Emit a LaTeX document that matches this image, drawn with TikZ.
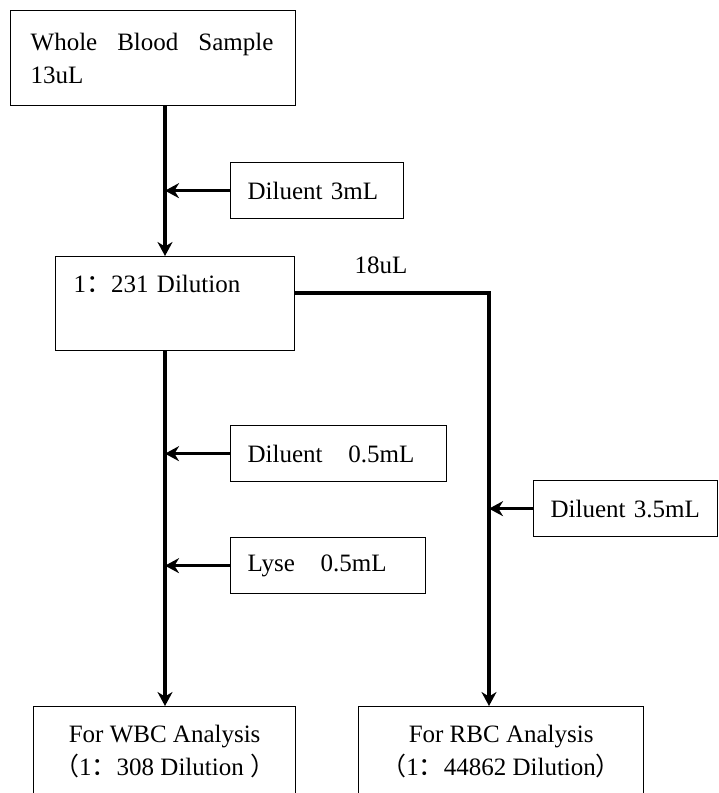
\documentclass[tikz,border=0pt]{standalone}
\usepackage{fontspec}
\setmainfont{Liberation Serif}
\newfontfamily\cjk{Noto Sans CJK SC}
\usetikzlibrary{arrows.meta,calc}
\begin{document}
\begin{tikzpicture}[x=1pt,y=-1pt,
  txt/.style={font=\fontsize{25}{33}\selectfont},
  box/.style={draw, line width=1.3pt, anchor=north west, inner ysep=0pt, txt},
  lbox/.style={box, align=left},
  conn/.style={line width=3.6pt, -{Stealth[length=14pt,width=15pt]}}]
\useasboundingbox (0,0) rectangle (719,793);
\coordinate (axL) at (165,0);
\coordinate (axR) at (489,0);

\node[lbox, minimum height=95pt, inner xsep=20pt, text width=245pt] (b1) at (10,10)
  {Whole\hspace{0.8em}Blood\hspace{0.8em}Sample\\13uL};
\node[lbox, minimum height=56pt, inner xsep=17pt, text width=139pt] (d1) at (230,162)
  {Diluent 3mL};
\node[lbox, inner xsep=18pt, text width=203pt, text height=36pt, text depth=58pt] (b2) at (55,256)
  {1{\cjk ：}231 Dilution};
\node[txt] (q) at (381,265) {18uL};
\node[lbox, minimum height=56pt, inner xsep=17pt, text width=182pt] (d2) at (230,425)
  {Diluent\hspace{0.7em} 0.5mL};
\node[lbox, minimum height=56pt, inner xsep=17pt, text width=161pt] (d3) at (230,537)
  {Lyse\hspace{0.7em} 0.5mL};
\node[lbox, minimum height=56pt, inner xsep=17pt, text width=150pt] (d4) at (533,480)
  {Diluent 3.5mL};
\node[box, align=center, minimum width=262pt, minimum height=90pt] (wbc) at (33,706)
  {For WBC Analysis\\{\cjk （}1{\cjk ：}308 Dilution {\cjk ）}};
\node[box, align=center, minimum width=285pt, minimum height=90pt] (rbc) at (358,706)
  {For RBC Analysis\\{\cjk （}1{\cjk ：}44862 Dilution{\cjk ）}};

\draw[conn] (b1.south -| axL) -- (b2.north -| axL);
\draw[conn] (d1.west) -- (d1.west -| axL);
\draw[conn] (b2.south -| axL) -- (wbc.north -| axL);
\draw[conn] (d2.west) -- (d2.west -| axL);
\draw[conn] (d3.west) -- (d3.west -| axL);
\draw[conn] ($(b2.north east)+(0,37)$) -| (rbc.north -| axR);
\draw[conn] (d4.west) -- (d4.west -| axR);
\end{tikzpicture}
\end{document}
